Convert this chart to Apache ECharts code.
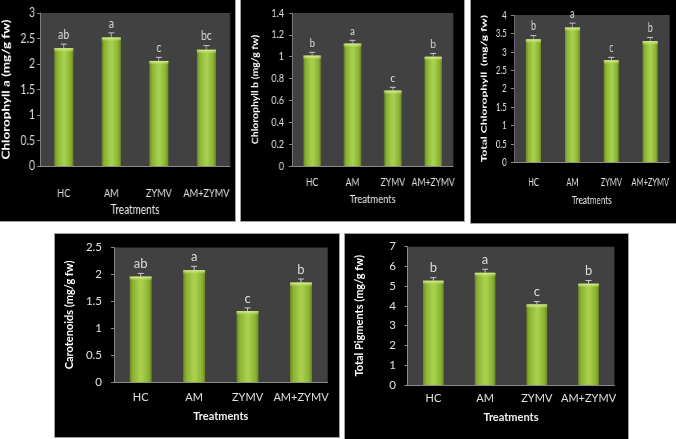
<!DOCTYPE html>
<html><head><meta charset="utf-8">
<script src="https://cdn.jsdelivr.net/npm/echarts@6/dist/echarts.min.js"></script>
<style>
html,body{margin:0;padding:0;background:#fff;width:676px;height:439px;overflow:hidden;}
.panel{position:absolute;background:#000;overflow:hidden;outline:1px solid #a0a0a0;}
.chart{position:absolute;left:0;top:0;transform-origin:0 0;}
</style></head><body>
<div id="p1" class="panel"><div class="chart"></div></div>
<div id="p2" class="panel"><div class="chart"></div></div>
<div id="p3" class="panel"><div class="chart"></div></div>
<div id="p4" class="panel"><div class="chart"></div></div>
<div id="p5" class="panel"><div class="chart"></div></div>
<script>
// ---- data ----
const categories = ['HC', 'AM', 'ZYMV', 'AM+ZYMV'];

const chlA = [2.31, 2.52, 2.06, 2.28];
const chlAErr = [0.08, 0.09, 0.07, 0.08];
const chlALetters = ['ab', 'a', 'c', 'bc'];

const chlB = [1.01, 1.12, 0.69, 1.00];
const chlBErr = [0.03, 0.03, 0.03, 0.03];
const chlBLetters = ['b', 'a', 'c', 'b'];

const totalChl = [3.34, 3.66, 2.77, 3.29];
const totalChlErr = [0.10, 0.12, 0.08, 0.10];
const totalChlLetters = ['b', 'a', 'c', 'b'];

const carot = [1.96, 2.08, 1.32, 1.85];
const carotErr = [0.06, 0.07, 0.06, 0.065];
const carotLetters = ['ab', 'a', 'c', 'b'];

const pigments = [5.28, 5.68, 4.08, 5.13];
const pigmentsErr = [0.15, 0.18, 0.14, 0.16];
const pigmentsLetters = ['b', 'a', 'c', 'b'];

const xName = 'Treatments';

// ---- layout (actual pixels) ----
const FONT = 'Lato, "Open Sans", sans-serif';
const panels = [
  {id:'p1', x:0, y:0, w:235, h:221, f:0.8, vals:chlA, errs:chlAErr, letters:chlALetters,
   yName:'Chlorophyll a (mg/g fw)', max:3, interval:0.5,
   grid:{left:40, right:5, top:13, bottom:55}, yNameSize:13.5, yNameGap:22,
   tickSize:13, tickMargin:5, catSize:11.5, catMargin:21, xNameSize:12.5, xNameGap:35, xNameBold:false,
   letterSize:13, barRatio:0.40},
  {id:'p2', x:241, y:0, w:223, h:221, f:0.82, vals:chlB, errs:chlBErr, letters:chlBLetters,
   yName:'Chlorophyll b (mg/g fw)', max:1.4, interval:0.2,
   grid:{left:51, right:10.7, top:13, bottom:55}, yNameSize:10.5, yNameGap:32,
   tickSize:11, tickMargin:8, catSize:10.5, catMargin:11, xNameSize:11.5, xNameGap:27, xNameBold:false,
   letterSize:12, barRatio:0.43},
  {id:'p3', x:471, y:0, w:205, h:223, f:0.68, vals:totalChl, errs:totalChlErr, letters:totalChlLetters,
   yName:'Total Chlorophyll  (mg/g fw)', max:4, interval:0.5,
   grid:{left:43, right:6, top:15, bottom:60.7}, yNameSize:12, yNameGap:25,
   tickSize:11.5, tickMargin:7.3, catSize:11, catMargin:14.4, xNameSize:12, xNameGap:32, xNameBold:false,
   letterSize:13, barRatio:0.39},
  {id:'p4', x:55, y:234, w:284, h:203, f:1, vals:carot, errs:carotErr, letters:carotLetters,
   yName:'Carotenoids (mg/g fw)', max:2.5, interval:0.5,
   grid:{left:59, right:11.3, top:13.5, bottom:54.7}, yNameSize:11, yNameGap:28,
   tickSize:11.5, tickMargin:12, catSize:11, catMargin:10, xNameSize:11, xNameGap:29, xNameBold:true,
   letterSize:13, barRatio:0.41},
  {id:'p5', x:345, y:234, w:283, h:205, f:1, vals:pigments, errs:pigmentsErr, letters:pigmentsLetters,
   yName:'Total Pigments (mg/g fw)', max:7, interval:1,
   grid:{left:62.5, right:13.6, top:12.7, bottom:54}, yNameSize:11, yNameGap:43,
   tickSize:11.5, tickMargin:11.5, catSize:11, catMargin:7.5, xNameSize:11, xNameGap:27, xNameBold:true,
   letterSize:13, barRatio:0.40}
];

const barGrad = () => new echarts.graphic.LinearGradient(0, 0, 1, 0, [
  {offset:0, color:'#6a881f'}, {offset:0.14, color:'#8bb234'},
  {offset:0.45, color:'#a6cf4c'}, {offset:0.55, color:'#a8d14e'},
  {offset:0.86, color:'#8bb234'}, {offset:1, color:'#6a881f'}
]);

function makeRender(cfg){
  return function(params, api){
    const i = api.value(0), v = api.value(1), e = api.value(2);
    const p0 = api.coord([i, v]);
    const p1 = api.coord([i, v + e]);
    const bw = api.size([1, 0])[0] * cfg.barRatio;
    const cap = 6 / cfg.f;
    return {type:'group', children:[
      {type:'rect', shape:{x:p0[0]-bw/2, y:p0[1], width:bw, height:4},
       style:{fill:new echarts.graphic.LinearGradient(0,0,0,1,[
         {offset:0, color:'rgba(230,248,160,0.95)'}, {offset:1, color:'rgba(190,225,100,0)'}])}},
      {type:'line', shape:{x1:p0[0], y1:p0[1], x2:p0[0], y2:p1[1]}, style:{stroke:'#c8c8c8', lineWidth:1}},
      {type:'line', shape:{x1:p0[0]-cap/2, y1:p1[1], x2:p0[0]+cap/2, y2:p1[1]}, style:{stroke:'#c8c8c8', lineWidth:1}},
      {type:'text', x:p0[0], y:p1[1]-3, style:{text:cfg.letters[params.dataIndex], fill:'#dcdcdc',
        fontSize:cfg.letterSize, fontFamily:FONT, align:'center', verticalAlign:'bottom',
        textAlign:'center', textVerticalAlign:'bottom'}}
    ]};
  };
}

panels.forEach(cfg => {
  const wrap = document.getElementById(cfg.id);
  wrap.style.left = cfg.x + 'px'; wrap.style.top = cfg.y + 'px';
  wrap.style.width = cfg.w + 'px'; wrap.style.height = cfg.h + 'px';
  const el = wrap.querySelector('.chart');
  const f = cfg.f;
  el.style.width = (cfg.w / f) + 'px';
  el.style.height = cfg.h + 'px';
  el.style.transform = 'scaleX(' + f + ')';
  const chart = echarts.init(el, null, {renderer:'canvas'});
  chart.setOption({
    animation:false,
    backgroundColor:'#000',
    grid:{left:cfg.grid.left/f, right:cfg.grid.right/f, top:cfg.grid.top, bottom:cfg.grid.bottom,
      show:true, backgroundColor:'#414141', borderWidth:0, containLabel:false, outerBoundsMode:'none'},
    xAxis:{type:'category', data:categories,
      axisLine:{show:true, lineStyle:{color:'#8a8a8a', width:1}},
      axisTick:{show:false},
      axisLabel:{interval:0, color:'#e0e0e0', fontSize:cfg.catSize, fontFamily:FONT, margin:cfg.catMargin},
      name:xName, nameLocation:'middle', nameGap:cfg.xNameGap,
      nameTextStyle:{color:'#f0f0f0', fontSize:cfg.xNameSize, fontFamily:FONT, fontWeight:cfg.xNameBold?'bold':'normal'}},
    yAxis:{type:'value', min:0, max:cfg.max, interval:cfg.interval,
      axisLine:{show:true, lineStyle:{color:'#8a8a8a', width:1}},
      axisTick:{show:true, length:3/f, lineStyle:{color:'#8a8a8a'}},
      axisLabel:{color:'#e0e0e0', fontSize:cfg.tickSize, fontFamily:FONT, margin:cfg.tickMargin/f},
      splitLine:{show:false},
      name:cfg.yName, nameLocation:'middle', nameGap:cfg.yNameGap/f,
      nameTextStyle:{color:'#ffffff', fontSize:cfg.yNameSize, fontFamily:FONT, fontWeight:'bold'}},
    series:[
      {type:'bar', data:cfg.vals, barWidth:(cfg.barRatio*100)+'%', itemStyle:{color:barGrad()}, silent:true},
      {type:'custom', data:cfg.vals.map((v, i) => [i, v, cfg.errs[i]]), renderItem:makeRender(cfg), z:5, silent:true}
    ]
  });
});
</script>
</body></html>
